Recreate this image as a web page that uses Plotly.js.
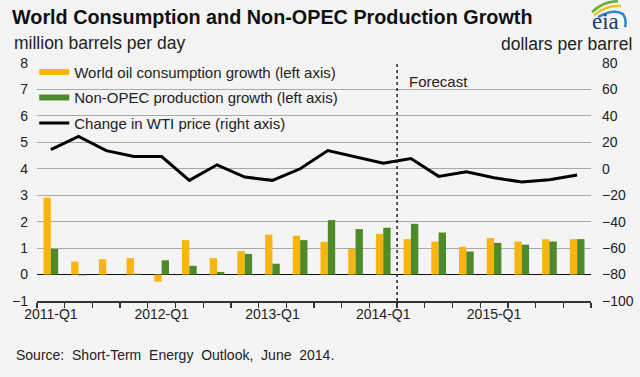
<!DOCTYPE html>
<html>
<head>
<meta charset="utf-8">
<script src="https://cdn.plot.ly/plotly-3.0.1.min.js"></script>
<style>html,body{margin:0;padding:0;background:#f4f4f4;}#chart{width:640px;height:377px;}</style>
</head>
<body>
<div id="chart"></div>
<script>
const quarters = ['2011-Q1','2011-Q2','2011-Q3','2011-Q4','2012-Q1','2012-Q2','2012-Q3','2012-Q4','2013-Q1','2013-Q2','2013-Q3','2013-Q4','2014-Q1','2014-Q2','2014-Q3','2014-Q4','2015-Q1','2015-Q2','2015-Q3','2015-Q4'];
const consumption = [2.91,0.49,0.58,0.62,-0.27,1.30,0.62,0.89,1.51,1.47,1.24,0.97,1.54,1.34,1.25,1.05,1.38,1.25,1.34,1.34];
const nonOpec = [0.97,-0.03,0.00,0.03,0.54,0.33,0.10,0.78,0.41,1.30,2.06,1.72,1.77,1.92,1.59,0.87,1.20,1.13,1.25,1.34];
const wtiChange = [14.5,24.5,13.75,9.25,9.25,-8.75,3,-6.25,-8.75,0,13.75,9.25,4.25,7.75,-5.75,-2.25,-6.75,-10,-8.25,-4.75];
const tickLabels = quarters.map(q => q.endsWith('Q1') ? q : '');
const seriesNames = ['World oil consumption growth (left axis)','Non-OPEC production growth (left axis)','Change in WTI price (right axis)'];
const colors = ['#F7B50E','#4E8A2A','#000000'];

const W = 640, H = 377, L = 37, R = 591, T = 63, B = 301.5;
const px = x => (x - L) / (R - L);
const py = y => (B - y) / (B - T);

const traces = [
  {type:'bar', x:quarters, y:consumption, marker:{color:colors[0]}, showlegend:false, hoverinfo:'skip'},
  {type:'bar', x:quarters, y:nonOpec, marker:{color:colors[1]}, showlegend:false, hoverinfo:'skip'},
  {type:'scatter', mode:'lines', x:quarters, y:wtiChange, yaxis:'y2', line:{color:colors[2], width:3}, showlegend:false, hoverinfo:'skip'},
  {type:'scatter', mode:'lines', x:[null], y:[null], name:seriesNames[0], line:{color:colors[0], width:6}, legendgroup:'a'},
  {type:'scatter', mode:'lines', x:[null], y:[null], name:seriesNames[1], line:{color:colors[1], width:6}, legendgroup:'b'},
  {type:'scatter', mode:'lines', x:[null], y:[null], name:seriesNames[2], line:{color:colors[2], width:3}, legendgroup:'c'}
];

const font = 'Liberation Sans, Arial, sans-serif';
const layout = {
  width: W, height: H,
  paper_bgcolor:'#f4f4f4', plot_bgcolor:'#f4f4f4',
  margin:{l:L, r:W-R, t:T, b:H-B, pad:0},
  font:{family:font, size:14, color:'#222'},
  title:{text:'<b>World Consumption and Non-OPEC Production Growth</b>', font:{family:font, size:19.8, color:'#111'}, x:12/W, xanchor:'left', y:1-17/H, yanchor:'middle'},
  barmode:'group', bargap:0.47, bargroupgap:0,
  xaxis:{type:'category', range:[-0.5,19.5], tickmode:'array', tickvals:quarters, ticktext:tickLabels, tickangle:0, tickson:'boundaries', ticks:'outside', ticklen:5, tickwidth:1.3, tickcolor:'#333', showline:true, linecolor:'#333', linewidth:1.5, showgrid:false, tickfont:{size:14, color:'#222'}, fixedrange:true},
  yaxis:{range:[-1,8], dtick:1, showgrid:true, gridcolor:'#a8a8a8', gridwidth:1, zeroline:true, zerolinecolor:'#111', zerolinewidth:1.5, showline:false, tickfont:{size:14, color:'#222'}, ticklabelstandoff:8, fixedrange:true},
  yaxis2:{overlaying:'y', side:'right', range:[-100,80], dtick:20, showgrid:false, zeroline:false, showline:false, tickfont:{size:14, color:'#222'}, ticklabelstandoff:10, fixedrange:true},
  legend:{x:-0.005, xanchor:'left', y:1.03, yanchor:'top', bgcolor:'rgba(0,0,0,0)', traceorder:'grouped', tracegroupgap:3, itemwidth:30, font:{size:15, color:'#222'}},
  shapes:[
    {type:'line', xref:'x', yref:'paper', x0:12.5, x1:12.5, y0:0, y1:1, line:{color:'#222', width:1.5, dash:'dot'}},
    {type:'path', xref:'paper', yref:'paper', path:`M ${px(592)},${py(12)} Q ${px(603)},${py(1)} ${px(618)},${py(1)}`, line:{color:'#6BAF3C', width:2.5}},
    {type:'path', xref:'paper', yref:'paper', path:`M ${px(594)},${py(15)} Q ${px(606)},${py(5)} ${px(621)},${py(6)}`, line:{color:'#F2C318', width:2.5}},
    {type:'path', xref:'paper', yref:'paper', path:`M ${px(598)},${py(17)} Q ${px(614)},${py(8)} ${px(623)},${py(14)} Q ${px(627)},${py(20)} ${px(625)},${py(27)}`, line:{color:'#2E86C8', width:2.5}}
  ],
  annotations:[
    {text:'Forecast', xref:'x', yref:'y', x:12.5, y:7.3, xanchor:'left', yanchor:'middle', xshift:10, showarrow:false, font:{size:15, color:'#222'}},
    {text:'million barrels per day', xref:'paper', yref:'paper', x:px(12), y:py(43), xanchor:'left', yanchor:'middle', showarrow:false, font:{size:17.5, color:'#222'}},
    {text:'dollars per barrel', xref:'paper', yref:'paper', x:px(634), y:py(44), xanchor:'right', yanchor:'middle', showarrow:false, font:{size:17.5, color:'#222'}},
    {text:'Source:  Short-Term  Energy  Outlook,  June  2014.', xref:'paper', yref:'paper', x:px(14), y:py(356), xanchor:'left', yanchor:'middle', showarrow:false, font:{size:14, color:'#222'}},
    {text:'eia', xref:'paper', yref:'paper', x:px(605), y:py(21), xanchor:'center', yanchor:'middle', showarrow:false, font:{family:'Liberation Serif, DejaVu Serif, serif', size:23, color:'#1C3A6E'}}
  ]
};

Plotly.newPlot('chart', traces, layout, {staticPlot:true, displayModeBar:false});
</script>
</body>
</html>
